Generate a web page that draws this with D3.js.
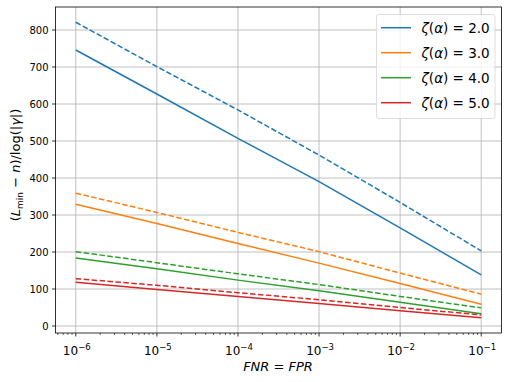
<!DOCTYPE html>
<html><head><meta charset="utf-8">
<script src="https://cdn.jsdelivr.net/npm/d3@7"></script>
<style>
html,body{margin:0;padding:0;background:#fff;}
svg{display:block;font-family:"DejaVu Sans",sans-serif;}
</style></head>
<body>
<svg id="chart" width="508" height="382"></svg>
<script>
// Data
const fnr = [1e-6, 1e-5, 1e-4, 1e-3, 1e-2, 1e-1];
const zetaValues = ["2.0", "3.0", "4.0", "5.0"];
const solidZ2 = [746, 627, 507, 390, 265, 138];
const solidZ3 = [329, 277, 223, 170, 115, 59];
const solidZ4 = [184, 155, 124, 95, 64, 33];
const solidZ5 = [118, 99, 80, 61, 41, 22];
const dashedZ2 = [821, 701, 584, 462, 334, 203];
const dashedZ3 = [359, 307, 253, 201, 143, 86];
const dashedZ4 = [201, 171, 141, 112, 80, 49];
const dashedZ5 = [128, 110, 90, 71, 50, 30];
const yTicks = [0, 100, 200, 300, 400, 500, 600, 700, 800];
const xTickExps = [-6, -5, -4, -3, -2, -1];
const colors = ["#1f77b4", "#ff7f0e", "#2ca02c", "#d62728"];

const solids = [solidZ2, solidZ3, solidZ4, solidZ5];
const dashes = [dashedZ2, dashedZ3, dashedZ4, dashedZ5];

const svg = d3.select("#chart");
const L = 55.5, R = 501.5, T = 7, B = 333;
const x = d3.scaleLog().domain([Math.pow(10, -6.25), Math.pow(10, -0.75)]).range([L, R]);
const y = d3.scaleLinear().domain([-18.9, 862.2]).range([B, T]);

// grid
const grid = svg.append("g");
xTickExps.forEach(e => {
  const px = x(Math.pow(10, e));
  grid.append("line").attr("x1", px).attr("x2", px).attr("y1", T).attr("y2", B)
    .attr("stroke", "#b0b0b0").attr("stroke-width", 0.8);
});
yTicks.forEach(v => {
  const py = y(v);
  grid.append("line").attr("x1", L).attr("x2", R).attr("y1", py).attr("y2", py)
    .attr("stroke", "#b0b0b0").attr("stroke-width", 0.8);
});

// lines
const line = d3.line().x((d, i) => x(fnr[i])).y(d => y(d));
const plot = svg.append("g");
solids.forEach((s, k) => {
  plot.append("path").attr("d", line(s)).attr("fill", "none")
    .attr("stroke", colors[k]).attr("stroke-width", 1.5);
  plot.append("path").attr("d", line(dashes[k])).attr("fill", "none")
    .attr("stroke", colors[k]).attr("stroke-width", 1.5).attr("stroke-dasharray", "5.55,2.4");
});

// spines
svg.append("rect").attr("x", L).attr("y", T).attr("width", R - L).attr("height", B - T)
  .attr("fill", "none").attr("stroke", "#000").attr("stroke-width", 0.8);

// y ticks
yTicks.forEach(v => {
  const py = y(v);
  svg.append("line").attr("x1", L - 3.5).attr("x2", L).attr("y1", py).attr("y2", py)
    .attr("stroke", "#000").attr("stroke-width", 0.8);
  svg.append("text").attr("x", L - 7).attr("y", py).attr("dy", "0.36em")
    .attr("text-anchor", "end").attr("font-size", 10).attr("fill", "#000").text(v);
});

// x minor ticks
const minor = [];
for (let e = -7; e <= -1; e++) {
  for (let m = 2; m <= 9; m++) {
    const v = m * Math.pow(10, e);
    if (v >= x.domain()[0] && v <= x.domain()[1]) minor.push(v);
  }
}
minor.forEach(v => {
  const px = x(v);
  svg.append("line").attr("x1", px).attr("x2", px).attr("y1", B).attr("y2", B + 2)
    .attr("stroke", "#000").attr("stroke-width", 0.6);
});
// x major ticks
xTickExps.forEach(e => {
  const px = x(Math.pow(10, e));
  svg.append("line").attr("x1", px).attr("x2", px).attr("y1", B).attr("y2", B + 3.5)
    .attr("stroke", "#000").attr("stroke-width", 0.8);
  const t = svg.append("text").attr("x", px + 1).attr("y", 355).attr("text-anchor", "middle")
    .attr("font-size", 12).attr("fill", "#000");
  t.append("tspan").text("10");
  t.append("tspan").attr("dy", -5).attr("font-size", 8.5).text("\u2212" + Math.abs(e));
});

// x label
svg.append("text").attr("x", 278).attr("y", 371).attr("text-anchor", "middle")
  .attr("font-size", 13).attr("font-style", "italic").attr("fill", "#000")
  .text("FNR = FPR");

// y label
const yl = svg.append("text").attr("transform", "translate(20,165) rotate(-90)")
  .attr("text-anchor", "middle").attr("font-size", 13).attr("fill", "#000");
yl.append("tspan").text("(");
yl.append("tspan").attr("font-style", "italic").text("L");
yl.append("tspan").attr("font-size", 9).attr("dy", 3).text("min");
yl.append("tspan").attr("dy", -3).text(" \u2212 ");
yl.append("tspan").attr("font-style", "italic").text("n");
yl.append("tspan").text(")/log(|");
yl.append("tspan").attr("font-style", "italic").text("\u03b3");
yl.append("tspan").text("|)");

// legend
const lg = svg.append("g");
lg.append("rect").attr("x", 376.5).attr("y", 14.5).attr("width", 118.5).attr("height", 104)
  .attr("rx", 2.5).attr("fill", "#fff").attr("fill-opacity", 0.8)
  .attr("stroke", "#d6d6d6").attr("stroke-width", 0.8);
zetaValues.forEach((z, k) => {
  const cy = 27.7 + k * 25;
  lg.append("line").attr("x1", 381).attr("x2", 411).attr("y1", cy).attr("y2", cy)
    .attr("stroke", colors[k]).attr("stroke-width", 1.5);
  const t = lg.append("text").attr("x", 421.5).attr("y", cy).attr("dy", "0.36em")
    .attr("font-size", 13.5).attr("fill", "#000");
  t.append("tspan").attr("font-style", "italic").text("\u03b6");
  t.append("tspan").text("(");
  t.append("tspan").attr("font-style", "italic").text("\u03b1");
  t.append("tspan").text(") = " + z);
});
</script>
</body></html>
